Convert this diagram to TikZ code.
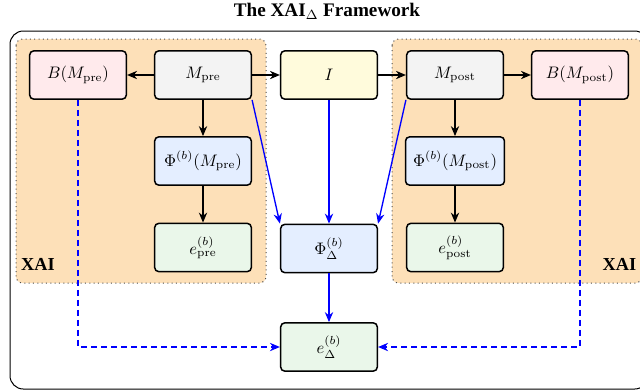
\documentclass[tikz,border=0pt]{standalone}
\usepackage[no-math]{fontspec}
\setmainfont{Liberation Serif}
\usetikzlibrary{arrows.meta,positioning}
\definecolor{xaiorange}{RGB}{253,224,184}
\definecolor{bfill}{RGB}{255,234,236}
\definecolor{mfill}{RGB}{243,243,243}
\definecolor{ifill}{RGB}{255,251,220}
\definecolor{phifill}{RGB}{228,238,255}
\definecolor{efill}{RGB}{234,247,234}
\tikzset{
  box/.style={draw=black, line width=0.9pt, rounded corners=2.5pt,
    minimum width=58pt, minimum height=29pt, inner xsep=4.5pt},
  flow/.style={-{Stealth[length=6pt,width=5pt]}, line width=0.75pt, black},
  diffflow/.style={-{Stealth[length=6pt,width=5pt]}, line width=0.8pt, blue},
  baseflow/.style={-{Stealth[length=6pt,width=5pt]}, line width=0.8pt, blue,
    dash pattern=on 3.5pt off 2.5pt},
  xaiarea/.style={fill=xaiorange, draw=black!70, dotted, line width=0.6pt,
    rounded corners=4pt},
  heading/.style={font=\fontsize{11}{13}\selectfont\bfseries},
}
\begin{document}
\begin{tikzpicture}[x=0.6pt,y=-0.6pt]
  \clip (0,0) rectangle (640,391);

  % title
  \node[font=\fontsize{11.5}{14}\selectfont\bfseries] (title) at (327,11) {The XAI$_{\Delta}$ Framework};

  % outer frame
  \draw[line width=0.6pt, rounded corners=8pt] (10,31) rectangle (648,389);

  % explanation areas
  \draw[xaiarea] (16,39) rectangle (266,283);
  \draw[xaiarea] (392,39) rectangle (642,283);
  \node[heading] (xaiL) at (38,264) {XAI};
  \node[heading] (xaiR) at (619.5,264) {XAI};

  % top row
  \node[box, fill=bfill] (Bpre) at (78,75) {$B(M_{\mathrm{pre}})$};
  \node[box, fill=mfill] (Mpre) at (203,75) {$M_{\mathrm{pre}}$};
  \node[box, fill=ifill] (I) at (329,75) {$I$};
  \node[box, fill=mfill] (Mpost) at (455,75) {$M_{\mathrm{post}}$};
  \node[box, fill=bfill] (Bpost) at (580,75) {$B(M_{\mathrm{post}})$};

  % attributions
  \node[box, fill=phifill] (Phipre) at (203,161) {$\Phi^{(b)}(M_{\mathrm{pre}})$};
  \node[box, fill=phifill] (Phipost) at (455,161) {$\Phi^{(b)}(M_{\mathrm{post}})$};

  % explanations
  \node[box, fill=efill] (epre) at (203,247.5) {$e^{(b)}_{\mathrm{pre}}$};
  \node[box, fill=efill] (epost) at (455,247.5) {$e^{(b)}_{\mathrm{post}}$};
  \node[box, fill=phifill] (PhiD) at (329,248.5) {$\Phi^{(b)}_{\Delta}$};
  \node[box, fill=efill] (eD) at (329,347) {$e^{(b)}_{\Delta}$};

  % model flow
  \draw[flow] (Mpre) -- (Bpre);
  \draw[flow] (Mpre) -- (I);
  \draw[flow] (I) -- (Mpost);
  \draw[flow] (Mpost) -- (Bpost);
  \draw[flow] (Mpre) -- (Phipre);
  \draw[flow] (Phipre) -- (epre);
  \draw[flow] (Mpost) -- (Phipost);
  \draw[flow] (Phipost) -- (epost);

  % difference flow
  \draw[diffflow] (Mpre.south east) -- (PhiD.north west);
  \draw[diffflow] (I) -- (PhiD);
  \draw[diffflow] (Mpost.south west) -- (PhiD.north east);
  \draw[diffflow] (PhiD) -- (eD);

  % baselines
  \draw[baseflow] (Bpre.south) |- (eD.west);
  \draw[baseflow] (Bpost.south) |- (eD.east);
\end{tikzpicture}
\end{document}
